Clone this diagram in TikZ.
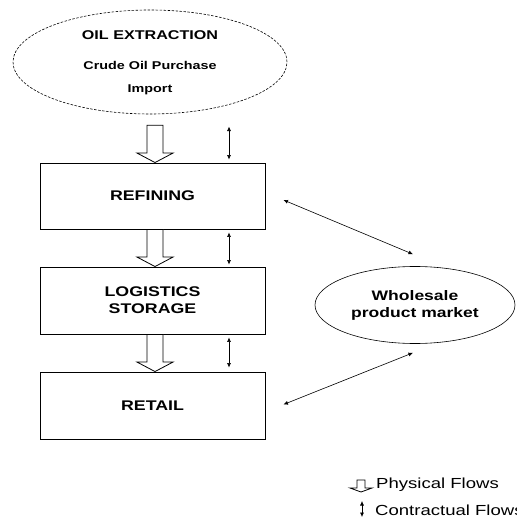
\documentclass[tikz,border=0pt]{standalone}
\usepackage{fontspec}
\setmainfont{Liberation Sans}[FakeStretch=1.27]
\usetikzlibrary{shapes.geometric,arrows.meta,calc}
\newcommand\hollowarrow[2]{%
  \draw[flow] let \p1=#1, \p2=#2 in
    (\x2-8pt,\y1) -- (\x2-8pt,\y2+9.5pt) -- (\x2-18pt,\y2+9.5pt) -- (\x2,\y2)
    -- (\x2+18pt,\y2+9.5pt) -- (\x2+8pt,\y2+9.5pt) -- (\x2+8pt,\y1) -- cycle;}
\begin{document}
\begin{tikzpicture}[x=1pt,y=-1pt,
  box/.style={draw,line width=0.9pt,minimum width=225pt,minimum height=66pt,inner sep=0pt,
    font=\bfseries\fontsize{14}{17}\selectfont,align=center},
  contract/.style={line width=0.6pt,{Latex[length=4.5pt,width=4pt]}-{Latex[length=4.5pt,width=4pt]}},
  flow/.style={line width=0.8pt,fill=white},
  legend/.style={inner sep=0pt,anchor=west,font=\fontsize{14.6}{16}\selectfont}]
\useasboundingbox (0,0) rectangle (516,518);
% top ellipse
\node[draw,ellipse,line width=0.6pt,dash pattern=on 2.5pt off 1.5pt,
      minimum width=274pt,minimum height=104pt] (oil) at (150,62) {};
\node[font=\bfseries\fontsize{12.7}{15}\selectfont] (t1) at (150,35) {OIL EXTRACTION};
\node[font=\bfseries\fontsize{11.3}{14}\selectfont] (t2) at (150,65) {Crude Oil Purchase};
\node[font=\bfseries\fontsize{11.3}{14}\selectfont] (t3) at (150,90) {Import};
% boxes
\node[box] (refining) at (152.5,196) {REFINING};
\node[box,minimum height=67pt] (logistics) at (152.5,300.5) {LOGISTICS\\STORAGE};
\node[box,minimum height=67pt] (retail) at (152.5,405.5) {RETAIL};
% market
\node[draw,ellipse,line width=0.6pt,minimum width=200pt,minimum height=77pt,inner sep=0pt,
      align=center,font=\bfseries\fontsize{13.8}{17}\selectfont] (market) at (415,305)
      {Wholesale\\product market};
% physical flows
\hollowarrow{($(oil.south)+(5,11)$)}{($(refining.north)+(2.5,0)$)}
\hollowarrow{($(refining.south)+(2.5,0)$)}{($(logistics.north)+(2.5,0)$)}
\hollowarrow{($(logistics.south)+(2.5,0)$)}{($(retail.north)+(2.5,0)$)}
% contractual flows
\draw[contract] ($(refining.north)+(76.5,-36)$) -- ($(refining.north)+(76.5,-3)$);
\draw[contract] ($(refining.south)+(76.5,3)$) -- ($(logistics.north)+(76.5,-2)$);
\draw[contract] ($(logistics.south)+(76.5,3)$) -- ($(retail.north)+(76.5,-4)$);
\draw[contract] ($(refining.east)+(18,4)$) -- ($(market.north)+(-2,-12)$);
\draw[contract] ($(retail.east)+(18,-1)$) -- ($(market.south)+(-2,9)$);
% legend
\node[legend] (phys) at (376,485) {Physical Flows};
\node[legend] (contr) at (375,510) {Contractual Flows};
\draw[flow] let \p1=(phys.west) in
  (\x1-19pt,\y1+5pt) -- (\x1-19pt,\y1-3pt) -- (\x1-26pt,\y1-3pt) -- (\x1-15pt,\y1-7pt)
  -- (\x1-4pt,\y1-3pt) -- (\x1-11pt,\y1-3pt) -- (\x1-11pt,\y1+5pt) -- cycle;
\draw[contract] ($(contr.west)+(-13,-9)$) -- ($(contr.west)+(-13,7)$);
\end{tikzpicture}
\end{document}
